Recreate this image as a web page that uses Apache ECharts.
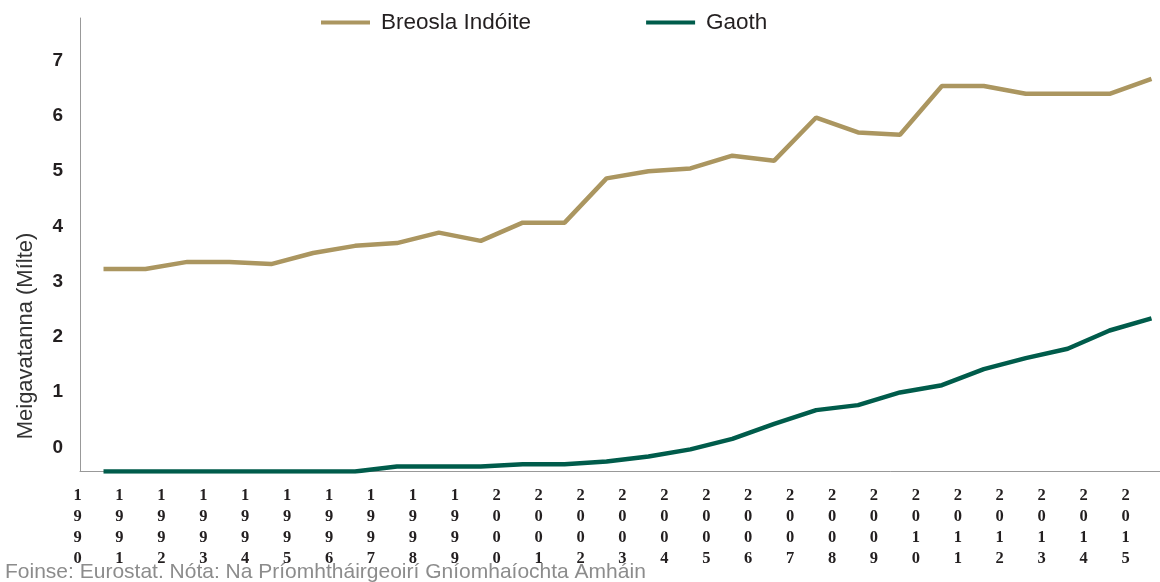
<!DOCTYPE html>
<html>
<head>
<meta charset="utf-8">
<title>Breosla Indóite agus Gaoth</title>
<script src="https://cdn.jsdelivr.net/npm/echarts@6/dist/echarts.min.js"></script>
<style>
    html, body {margin: 0; padding: 0; background: #fff;}
    #chart {width: 1160px; height: 582px;}
</style>
</head>
<body>
<div id="chart"></div>
<script>
let $ = a=>document.querySelector(a)

// blianta
let years = ['1990','1991','1992','1993','1994','1995','1996','1997','1998','1999','2000','2001','2002',
    '2003','2004','2005','2006','2007','2008','2009','2010','2011','2012','2013','2014','2015']

// Meigavatanna (Mílte)
let breosla = [3.66, 3.66, 3.79, 3.79, 3.75, 3.95, 4.08, 4.13, 4.32, 4.17, 4.50, 4.50, 5.30,
    5.43, 5.48, 5.71, 5.62, 6.40, 6.13, 6.09, 6.97, 6.97, 6.83, 6.83, 6.83, 7.10]
let gaoth = [0, 0, 0, 0, 0, 0, 0, 0.09, 0.09, 0.09, 0.13, 0.13, 0.18,
    0.27, 0.40, 0.59, 0.86, 1.11, 1.20, 1.43, 1.56, 1.85, 2.05, 2.22, 2.55, 2.77]

let seriesNames = ['Breosla Indóite', 'Gaoth']
let colors = ['#ab9660', '#005c4b']
let yMax = 8.2

let sans = '"Liberation Sans", Arial, sans-serif'

echarts.init($('#chart')).setOption({
    animation: false,
    color: colors,
    legend: {
        left: 321,
        top: 11,
        padding: 0,
        icon: 'rect',
        itemWidth: 49,
        itemHeight: 4,
        itemGap: 115,
        data: seriesNames,
        textStyle: {
            fontFamily: sans,
            fontSize: 22.5,
            color: '#231f20',
            padding: [0, 0, 0, 6]
        }
    },
    grid: [
        // axis lines only
        {left: 80, right: 0, top: 18, bottom: 110.5, outerBoundsMode: 'none'},
        // the data, a little inside the axes
        {left: 103.5, right: 8.5, top: 18, bottom: 110.5, outerBoundsMode: 'none'}
    ],
    xAxis: [
        {
            gridIndex: 0,
            type: 'value',
            min: 0,
            max: 1,
            axisLine: {show: true, lineStyle: {color: '#999', width: 1}},
            axisTick: {show: false},
            axisLabel: {show: false},
            splitLine: {show: false}
        },
        {
            gridIndex: 1,
            type: 'category',
            boundaryGap: false,
            data: years,
            axisLine: {show: false},
            axisTick: {show: false},
            splitLine: {show: false},
            axisLabel: {
                interval: 0,
                margin: 14,
                fontFamily: '"Liberation Serif", "Times New Roman", serif',
                fontWeight: 'bold',
                fontSize: 16.5,
                lineHeight: 21,
                color: '#231f20',
                padding: [0, 52, 0, 0], // labels sit left of the points
                formatter: v => v.split('').join('\n')
            }
        }
    ],
    yAxis: [
        {
            gridIndex: 0,
            type: 'value',
            min: 0,
            max: yMax,
            interval: 1,
            axisLine: {show: true, lineStyle: {color: '#999', width: 1}},
            axisTick: {show: false},
            splitLine: {show: false},
            axisLabel: {
                margin: 17,
                fontFamily: sans,
                fontWeight: 'bold',
                fontSize: 19,
                color: '#231f20',
                verticalAlign: 'bottom', // labels sit above their ticks
                lineHeight: 48,
                showMaxLabel: false,
                formatter: v => (v <= 7 ? v : '')
            }
        },
        {
            gridIndex: 1,
            type: 'value',
            min: 0,
            max: yMax,
            show: false
        }
    ],
    graphic: [
        {
            type: 'text',
            x: 26,
            y: 336,
            rotation: Math.PI / 2,
            style: {
                text: 'Meigavatanna (Mílte)',
                font: '22px "Liberation Sans", Arial, sans-serif',
                fill: '#333',
                align: 'center',
                verticalAlign: 'middle'
            }
        },
        {
            type: 'text',
            x: 5,
            y: 572,
            style: {
                text: 'Foinse: Eurostat. Nóta: Na Príomhtháirgeoirí Gníomhaíochta Amháin',
                font: '21px "Liberation Sans", Arial, sans-serif',
                fill: '#8c8c8c',
                align: 'left',
                verticalAlign: 'middle'
            }
        }
    ],
    series: [
        {
            name: seriesNames[0],
            type: 'line',
            xAxisIndex: 1,
            yAxisIndex: 1,
            symbol: 'none',
            lineStyle: {width: 4.5, color: colors[0]},
            data: breosla
        },
        {
            name: seriesNames[1],
            type: 'line',
            xAxisIndex: 1,
            yAxisIndex: 1,
            symbol: 'none',
            lineStyle: {width: 4.5, color: colors[1]},
            data: gaoth
        }
    ]
})
</script>
</body>
</html>
